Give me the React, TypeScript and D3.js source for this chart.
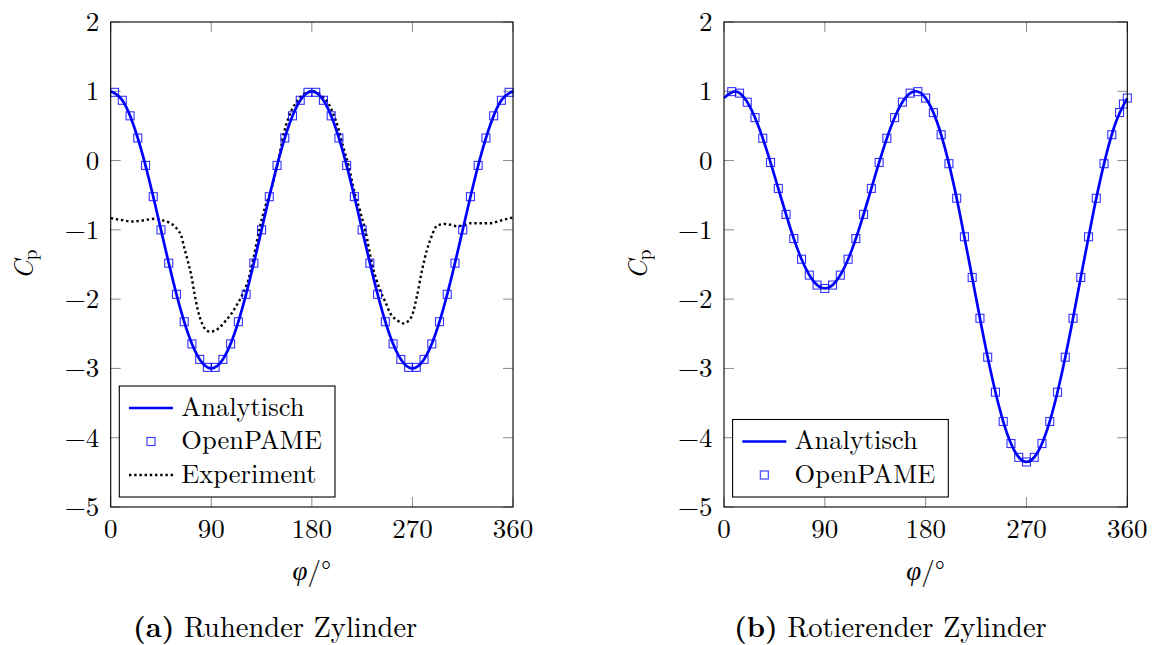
import React from "react";
import * as d3 from "d3";

// ---------- data ----------
const PHI_TICKS = [0, 90, 180, 270, 360];
const CP_TICKS = [2, 1, 0, -1, -2, -3, -4, -5];

// analytic curves sampled every 10 deg
const ANA_PHI = [0, 10, 20, 30, 40, 50, 60, 70, 80, 90, 100, 110, 120, 130, 140, 150, 160, 170, 180,
  190, 200, 210, 220, 230, 240, 250, 260, 270, 280, 290, 300, 310, 320, 330, 340, 350, 360];
const ANA_A = [1, 0.879, 0.532, 0, -0.653, -1.347, -2, -2.532, -2.879, -3, -2.879, -2.532, -2, -1.347, -0.653, 0, 0.532, 0.879, 1,
  0.879, 0.532, 0, -0.653, -1.347, -2, -2.532, -2.879, -3, -2.879, -2.532, -2, -1.347, -0.653, 0, 0.532, 0.879, 1];
const ANA_B = [0.902, 0.999, 0.862, 0.528, 0.054, -0.486, -1.014, -1.454, -1.744, -1.846, -1.744, -1.454, -1.014, -0.486, 0.054, 0.528, 0.862, 0.999, 0.902,
  0.564, 0.006, -0.724, -1.556, -2.404, -3.182, -3.807, -4.21, -4.35, -4.21, -3.807, -3.182, -2.404, -1.556, -0.724, 0.006, 0.564, 0.902];

// OpenPAME markers, panel a
const PAME_A_PHI = [3.46, 10.38, 17.31, 24.23, 31.15, 38.08, 45.0, 51.92, 58.85, 65.77, 72.69, 79.62, 86.54,
  93.46, 100.38, 107.31, 114.23, 121.15, 128.08, 135.0, 141.92, 148.85, 155.77, 162.69, 169.62, 176.54,
  183.46, 190.38, 197.31, 204.23, 211.15, 218.08, 225.0, 231.92, 238.85, 245.77, 252.69, 259.62, 266.54,
  273.46, 280.38, 287.31, 294.23, 301.15, 308.08, 315.0, 321.92, 328.85, 335.77, 342.69, 349.62, 356.54];
const PAME_A_CP = [0.985, 0.87, 0.646, 0.326, -0.07, -0.521, -1.0, -1.481, -1.93, -2.326, -2.646, -2.87, -2.985,
  -2.985, -2.87, -2.646, -2.326, -1.93, -1.481, -1.0, -0.521, -0.07, 0.326, 0.646, 0.87, 0.985,
  0.985, 0.87, 0.646, 0.326, -0.07, -0.521, -1.0, -1.481, -1.93, -2.326, -2.646, -2.87, -2.985,
  -2.985, -2.87, -2.646, -2.326, -1.93, -1.481, -1.0, -0.521, -0.07, 0.326, 0.646, 0.87, 0.985];

// OpenPAME markers, panel b
const PAME_B_PHI = [6.92, 13.85, 20.77, 27.69, 34.62, 41.54, 48.46, 55.38, 62.31, 69.23, 76.15, 83.08, 90.0,
  96.92, 103.85, 110.77, 117.69, 124.62, 131.54, 138.46, 145.38, 152.31, 159.23, 166.15, 173.08, 180.0,
  186.92, 193.85, 200.77, 207.69, 214.62, 221.54, 228.46, 235.38, 242.31, 249.23, 256.15, 263.08, 270.0,
  276.92, 283.85, 290.77, 297.69, 304.62, 311.54, 318.46, 325.38, 332.31, 339.23, 346.15, 353.08, 356.54, 360.0];
const PAME_B_CP = [0.995, 0.973, 0.843, 0.62, 0.322, -0.027, -0.402, -0.777, -1.126, -1.424, -1.653, -1.797, -1.846,
  -1.797, -1.653, -1.424, -1.126, -0.777, -0.402, -0.027, 0.322, 0.62, 0.843, 0.973, 0.995, 0.902,
  0.693, 0.373, -0.045, -0.544, -1.1, -1.687, -2.276, -2.838, -3.343, -3.766, -4.084, -4.283, -4.35,
  -4.283, -4.084, -3.766, -3.343, -2.838, -2.276, -1.687, -1.1, -0.544, -0.045, 0.373, 0.693, 0.817, 0.902];

// Experiment, panel a
const EXP_PHI = [0, 10, 19, 30, 40, 48, 55, 60, 63, 66, 69, 72, 75, 78, 81, 84, 89, 94, 98, 103, 108, 113, 118, 123,
  128, 133, 138, 143, 150, 155, 162, 168, 172, 177, 181, 186, 190, 195, 199, 204, 208, 213, 218, 223, 228, 234,
  241, 246, 250, 256, 262, 266, 270, 274, 278, 283, 287, 292, 299, 305, 310, 316, 322, 330, 339, 348, 355, 360];
const EXP_CP = [-0.83, -0.86, -0.88, -0.86, -0.84, -0.87, -0.92, -1.0, -1.08, -1.27, -1.45, -1.65, -1.92, -2.16, -2.32, -2.42, -2.47, -2.45, -2.4, -2.31, -2.21, -2.08, -1.93, -1.73,
  -1.39, -1.0, -0.68, -0.45, 0.0, 0.4, 0.73, 0.88, 0.95, 0.99, 1.0, 0.97, 0.92, 0.82, 0.68, 0.45, 0.2, -0.08, -0.45, -0.72, -1.02, -1.5,
  -1.87, -2.05, -2.2, -2.3, -2.35, -2.32, -2.22, -1.96, -1.63, -1.29, -1.1, -0.94, -0.915, -0.93, -0.95, -0.93, -0.905, -0.905, -0.905, -0.87, -0.84, -0.82];

const LEGEND_A = ["Analytisch", "OpenPAME", "Experiment"];
const LEGEND_B = ["Analytisch", "OpenPAME"];

// ---------- layout ----------
const W = 1153, H = 645;
const Y_TOP = 22, Y_BOT = 507;
const FONT = { fontFamily: "Latin Modern Roman" };
const BLUE = "#0000ff";

type PanelProps = {
  x0: number; x1: number;
  anaCp: number[];
  pPhi: number[]; pCp: number[];
  exp?: boolean;
  legend: string[];
};

const fmt = (v: number) => (v < 0 ? "\u2212" + Math.abs(v) : String(v));

function Panel({ x0, x1, anaCp, pPhi, pCp, exp, legend }: PanelProps) {
  const x = d3.scaleLinear().domain([0, 360]).range([x0, x1]);
  const y = d3.scaleLinear().domain([-5, 2]).range([Y_BOT, Y_TOP]);
  const anaLine = d3.line<number>().x((_, i) => x(ANA_PHI[i])).y((d) => y(d)).curve(d3.curveNatural);
  const expLine = d3.line<number>().x((_, i) => x(EXP_PHI[i])).y((d) => y(d)).curve(d3.curveMonotoneX);
  const tl = 10;
  const sq = 8;
  const cx = (x0 + x1) / 2;
  const cy = (Y_TOP + Y_BOT) / 2;
  const rowH = 33.5;
  const boxH = 44 + (legend.length - 1) * rowH;
  const boxX = x0 + 8.6;
  const boxY = Y_BOT - 10 - boxH;
  const boxW = 215.7;
  return (
    <g>
      {PHI_TICKS.map((t) => (
        <g key={"xt" + t}>
          <line x1={x(t)} x2={x(t)} y1={Y_BOT} y2={Y_BOT - tl} stroke="#8c8c8c" strokeWidth={1} />
          <line x1={x(t)} x2={x(t)} y1={Y_TOP} y2={Y_TOP + tl} stroke="#8c8c8c" strokeWidth={1} />
          <text x={x(t)} y={538} textAnchor="middle" fontSize={27} style={FONT}>{fmt(t)}</text>
        </g>
      ))}
      {CP_TICKS.map((t) => (
        <g key={"yt" + t}>
          <line x1={x0} x2={x0 + tl} y1={y(t)} y2={y(t)} stroke="#8c8c8c" strokeWidth={1} />
          <line x1={x1} x2={x1 - tl} y1={y(t)} y2={y(t)} stroke="#8c8c8c" strokeWidth={1} />
          <text x={x0 - 11.5} y={y(t) + 9} textAnchor="end" fontSize={27} style={FONT}>{fmt(t)}</text>
        </g>
      ))}
      {exp && (
        <path d={expLine(EXP_CP) || ""} fill="none" stroke="#000" strokeWidth={2.4} strokeDasharray="2.4 2.8" />
      )}
      <path d={anaLine(anaCp) || ""} fill="none" stroke={BLUE} strokeWidth={2.7} />
      {pCp.map((v, i) => (
        <rect key={"m" + i} x={x(pPhi[i]) - sq / 2} y={y(v) - sq / 2} width={sq} height={sq}
          fill="none" stroke={BLUE} strokeWidth={1.1} strokeOpacity={0.8} />
      ))}
      <rect x={x0} y={Y_TOP} width={x1 - x0} height={Y_BOT - Y_TOP} fill="none" stroke="#000" strokeWidth={1.1} />
      <g>
        <rect x={boxX} y={boxY} width={boxW} height={boxH} fill="#fff" stroke="#000" strokeWidth={1.1} />
        {legend.map((name, i) => {
          const ry = boxY + 22 + i * rowH;
          return (
            <g key={name}>
              {i === 0 && <line x1={boxX + 9.7} x2={boxX + 53.7} y1={ry} y2={ry} stroke={BLUE} strokeWidth={2.7} />}
              {i === 1 && (
                <rect x={boxX + 31.7 - sq / 2} y={ry - sq / 2} width={sq} height={sq} fill="none" stroke={BLUE}
                  strokeWidth={1.1} strokeOpacity={0.8} />
              )}
              {i === 2 && (
                <line x1={boxX + 9.7} x2={boxX + 53.7} y1={ry} y2={ry} stroke="#000" strokeWidth={2.4} strokeDasharray="2.4 2.8" />
              )}
              <text x={boxX + 62} y={ry + 7.5} fontSize={26.5} style={FONT}>{name}</text>
            </g>
          );
        })}
      </g>
      <text transform={`translate(${x0 - 77.5},${cy}) rotate(-90)`} textAnchor="middle" fontSize={27} style={FONT}>
        <tspan fontStyle="italic">C</tspan>
        <tspan fontSize={19} dy={4}>p</tspan>
      </text>
      <text x={cx} y={580} textAnchor="middle" fontSize={27} style={FONT}>
        <tspan fontStyle="italic">φ</tspan>
        <tspan>/°</tspan>
      </text>
    </g>
  );
}

export default function App() {
  return (
    <svg width={W} height={H} viewBox={`0 0 ${W} ${H}`} style={{ position: "absolute", left: 0, top: 0, background: "#fff" }}>
      <rect x={0} y={0} width={W} height={H} fill="#fff" />
      <Panel x0={110.7} x1={513} anaCp={ANA_A} pPhi={PAME_A_PHI} pCp={PAME_A_CP} exp legend={LEGEND_A} />
      <Panel x0={724} x1={1127.3} anaCp={ANA_B} pPhi={PAME_B_PHI} pCp={PAME_B_CP} legend={LEGEND_B} />
      <text x={133} y={637} fontSize={28.5} style={FONT}>
        <tspan fontWeight="bold">(a)</tspan>
        <tspan> Ruhender Zylinder</tspan>
      </text>
      <text x={734} y={637} fontSize={28.5} style={FONT}>
        <tspan fontWeight="bold">(b)</tspan>
        <tspan> Rotierender Zylinder</tspan>
      </text>
    </svg>
  );
}
